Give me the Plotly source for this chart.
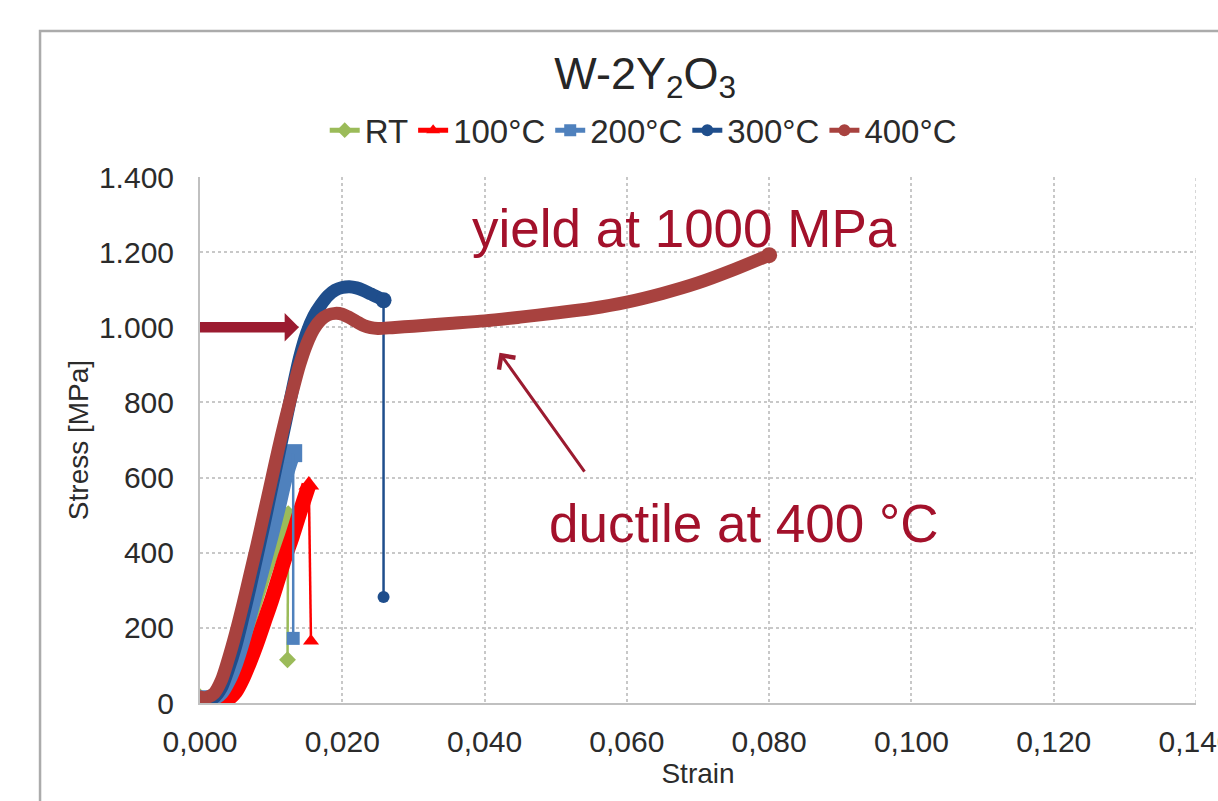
import plotly.graph_objects as go

# ---- tensile test data, W-2Y2O3 ----
series_names = ["RT", "100°C", "200°C", "300°C", "400°C"]

strain_rt = [0.0000, 0.0010, 0.0020, 0.0030, 0.0040, 0.0050, 0.0060, 0.0070,
             0.0080, 0.0090, 0.0100, 0.0110, 0.0120, 0.0124]
stress_rt = [10, 12, 16, 30, 60, 105, 160, 220, 280, 340, 395, 445, 485, 497]
fracture_rt = (0.0123, 115)

strain_100 = [0.0010, 0.0020, 0.0030, 0.0040, 0.0050, 0.0060, 0.0070, 0.0080,
              0.0090, 0.0100, 0.0110, 0.0120, 0.0130, 0.0140, 0.0153]
stress_100 = [3, 4, 6, 12, 30, 65, 110, 160, 215, 270, 330, 390, 445, 505, 580]
fracture_100 = (0.0156, 165)

strain_200 = [0.0000, 0.0010, 0.0020, 0.0030, 0.0040, 0.0050, 0.0060, 0.0070,
              0.0080, 0.0090, 0.0100, 0.0110, 0.0120, 0.0131]
stress_200 = [10, 10, 14, 28, 60, 105, 165, 235, 305, 375, 445, 520, 600, 665]
fracture_200 = (0.0131, 172)

strain_300 = [0.0000, 0.0010, 0.0020, 0.0030, 0.0040, 0.0050, 0.0060, 0.0070,
              0.0080, 0.0090, 0.0100, 0.0110, 0.0120, 0.0130, 0.0140, 0.0150,
              0.0160, 0.0170, 0.0180, 0.0190, 0.0200, 0.0210, 0.0220, 0.0230,
              0.0240, 0.0250, 0.0258]
stress_300 = [5, 8, 15, 40, 90, 150, 225, 305, 390, 475, 565, 655, 745, 835,
              920, 985, 1030, 1060, 1084, 1099, 1106, 1108, 1105, 1098, 1089,
              1080, 1072]
fracture_300 = (0.0258, 282)

strain_400 = [0.0000, 0.0010, 0.0020, 0.0030, 0.0040, 0.0050, 0.0060, 0.0070,
              0.0080, 0.0090, 0.0100, 0.0110, 0.0120, 0.0130, 0.0140, 0.0150,
              0.0160, 0.0170, 0.0180, 0.0190, 0.0200, 0.0210, 0.0220, 0.0230,
              0.0240, 0.0250, 0.0270, 0.0300, 0.0350, 0.0400, 0.0450, 0.0500,
              0.0550, 0.0600, 0.0650, 0.0700, 0.0750, 0.0800]
stress_400 = [12, 15, 26, 60, 118, 185, 260, 340, 420, 505, 590, 675, 755, 830,
              900, 955, 995, 1020, 1033, 1037, 1035, 1026, 1015, 1005, 999, 997,
              999, 1003, 1010, 1017, 1027, 1038, 1050, 1067, 1090, 1118, 1153,
              1192]
fracture_400 = None  # no brittle drop at 400 °C

colors = ["#9BBB59", "#FF0000", "#4F81BD", "#1F4E8C", "#A8423F"]
symbols = ["diamond", "triangle-up", "square", "circle", "circle"]
marker_sizes = [13, 14, 13, 12, 13]
band_widths = [14, 15, 15, 13, 13]

strains = [strain_rt, strain_100, strain_200, strain_300, strain_400]
stresses = [stress_rt, stress_100, stress_200, stress_300, stress_400]
fractures = [fracture_rt, fracture_100, fracture_200, fracture_300, fracture_400]

# annotation positions (strain, stress)
yield_level = 1000
yield_label_pos = (0.0380, 1262)
ductile_label_pos = (0.0488, 478)
ductile_arrow_tail = (0.0542, 612)
ductile_arrow_head = (0.0421, 932)
x_max = 0.14

FONT = "Liberation Sans, Arial, sans-serif"
ACCENT = "#A3112B"
GRID = "#C8C8C8"

fig = go.Figure()

for name, xs, ys, frac, col, sym, ms, bw in zip(series_names, strains, stresses,
                                                 fractures, colors, symbols,
                                                 marker_sizes, band_widths):
    # thick stress-strain curve
    fig.add_trace(go.Scatter(
        x=xs, y=ys, mode="lines",
        line=dict(color=col, width=bw, shape="spline", smoothing=0.8),
        legendgroup=name, showlegend=False, hoverinfo="skip"))
    # markers capping both ends of the curve
    fig.add_trace(go.Scatter(
        x=[xs[0], xs[-1]], y=[ys[0], ys[-1]], mode="markers",
        marker=dict(color=col, symbol=sym, size=bw + 3),
        legendgroup=name, showlegend=False, hoverinfo="skip"))
    if frac is not None:
        # thin drop at fracture
        fig.add_trace(go.Scatter(
            x=[xs[-1], frac[0]], y=[ys[-1], frac[1]], mode="lines",
            line=dict(color=col, width=2.5),
            legendgroup=name, showlegend=False, hoverinfo="skip"))
        end_pt = frac
    else:
        end_pt = (xs[-1], ys[-1])
    # end marker, also the legend entry
    fig.add_trace(go.Scatter(
        x=[end_pt[0]], y=[end_pt[1]], mode="lines+markers", name=name,
        line=dict(color=col, width=2.5),
        marker=dict(color=col, symbol=sym, size=ms),
        legendgroup=name))

# thick horizontal arrow marking the yield level
x_tip = 0.0139
x_neck = 0.0119
fig.add_shape(
    type="path", xref="x", yref="y",
    path=(f"M 0,{yield_level - 14} L {x_neck},{yield_level - 14} "
          f"L {x_neck},{yield_level - 38} L {x_tip},{yield_level} "
          f"L {x_neck},{yield_level + 38} L {x_neck},{yield_level + 14} "
          f"L 0,{yield_level + 14} Z"),
    fillcolor="#9B1B30", line=dict(width=0), layer="above")

# last vertical gridline at the right edge of the plot
fig.add_shape(type="line", xref="x", yref="y", x0=x_max, x1=x_max, y0=0, y1=1400,
              line=dict(color=GRID, width=1.5, dash="dot"), layer="below")

# outer chart frame
fig.add_shape(type="rect", xref="paper", yref="paper",
              x0=-0.1606, x1=1.2, y0=-0.6, y1=1.2776,
              line=dict(color="#ABABAB", width=2.5), fillcolor="rgba(0,0,0,0)",
              layer="above")

fig.add_annotation(x=yield_label_pos[0], y=yield_label_pos[1], xref="x", yref="y",
                   text="yield at 1000 MPa", showarrow=False,
                   xanchor="left", yanchor="middle",
                   font=dict(family=FONT, size=53, color=ACCENT))
fig.add_annotation(x=ductile_label_pos[0], y=ductile_label_pos[1], xref="x", yref="y",
                   text="ductile at 400 °C", showarrow=False,
                   xanchor="left", yanchor="middle",
                   font=dict(family=FONT, size=53, color=ACCENT))
fig.add_annotation(x=ductile_arrow_head[0], y=ductile_arrow_head[1],
                   ax=ductile_arrow_tail[0], ay=ductile_arrow_tail[1],
                   xref="x", yref="y", axref="x", ayref="y", text="",
                   showarrow=True, arrowhead=4, arrowsize=1.3, arrowwidth=3,
                   arrowcolor="#9B1B30", standoff=0)

fig.update_layout(
    width=1218, height=801, autosize=False,
    margin=dict(l=200, r=22, t=177, b=98, autoexpand=False),
    paper_bgcolor="white", plot_bgcolor="white",
    separators=",.",
    font=dict(family=FONT, size=29, color="#2B2B2B"),
    title=dict(text="W-2Y<sub>2</sub>O<sub>3</sub>", x=0.447, xref="paper",
               xanchor="center", y=1 - 73 / 801, yref="container", yanchor="middle",
               font=dict(family=FONT, size=45, color="#262626")),
    legend=dict(orientation="h", x=0.445, xanchor="center", y=1.089, yanchor="middle",
                font=dict(family=FONT, size=33, color="#2B2B2B"),
                bgcolor="rgba(0,0,0,0)", itemsizing="constant",
                traceorder="normal"),
    showlegend=True,
)

fig.update_xaxes(
    range=[0, x_max], tick0=0, dtick=0.02, tickformat=".3f",
    showgrid=True, gridcolor=GRID, griddash="dot", gridwidth=1.5,
    showline=True, linecolor="#C0C0C0", linewidth=2, zeroline=False,
    ticks="", ticklabelstandoff=11, ticklabeloverflow="allow", automargin=False,
    tickfont=dict(size=30),
    title=dict(text="Strain", standoff=5, font=dict(family=FONT, size=28)),
)
fig.update_yaxes(
    range=[0, 1400], tick0=0, dtick=200, tickformat=",d",
    showgrid=True, gridcolor=GRID, griddash="dot", gridwidth=1.5,
    showline=True, linecolor="#C0C0C0", linewidth=2, zeroline=False,
    ticks="", ticklabelstandoff=18, ticklabeloverflow="allow", automargin=False,
    tickfont=dict(size=30),
    title=dict(text="Stress [MPa]", standoff=2, font=dict(family=FONT, size=28)),
)

fig.write_html("out.html")
